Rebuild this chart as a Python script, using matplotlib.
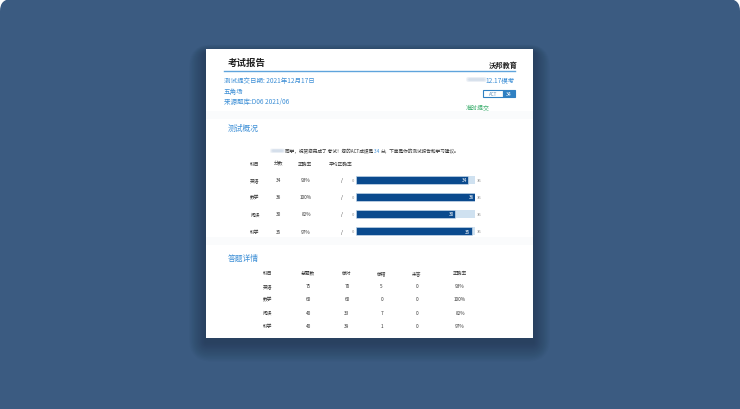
import matplotlib
matplotlib.use("Agg")
import matplotlib.pyplot as plt
from matplotlib.patches import FancyBboxPatch, Rectangle

plt.rcParams['font.family'] = ['Noto Sans CJK SC', 'DejaVu Sans']

# ---------------- data ----------------
subjects = ['英语', '数学', '阅读', '科学']
scores = [34, 36, 30, 35]
accuracy = ['93%', '100%', '82%', '97%']
max_score = 36
overview_headers = ['科目', '分数', '正确率', '平均正确率']

detail_headers = ['科目', '总题数', '做对', '做错', '未答', '正确率']
total_q = [75, 60, 40, 40]
correct_q = [70, 60, 33, 39]
wrong_q = [5, 0, 7, 1]
blank_q = [0, 0, 0, 0]

act_score = 34

# ---------------- colours ----------------
BG = '#3b5b81'
BLUE_TXT = '#3d8fd6'
DARK_BAR = '#0a4a8e'
LIGHT_BAR = '#cfe1f0'
GREEN = '#3aad6c'
TXT = '#333333'

W, H = 740, 410
fig = plt.figure(figsize=(W / 100, H / 100), dpi=100, facecolor='white')
ax = fig.add_axes([0, 0, 1, 1])
ax.set_xlim(0, W)
ax.set_ylim(H, 0)
ax.axis('off')

# background with rounded top corners
ax.add_patch(FancyBboxPatch((0, 0), W, H + 40, boxstyle="round,pad=0,rounding_size=12",
                            fc=BG, ec='none', zorder=0))

# shadow
cx0, cy0, cx1, cy1 = 206, 50, 533, 339
for i in range(14):
    g = 2 + i * 2.0
    ax.add_patch(FancyBboxPatch((cx0 - g * 0.6, cy0 + 4 - g * 0.3), (cx1 - cx0) + g * 1.2,
                                (cy1 - cy0) + g * 1.0,
                                boxstyle="round,pad=0,rounding_size=%f" % (g * 0.8),
                                fc='#1c2d45', ec='none', alpha=0.045, zorder=1))

# card
ax.add_patch(Rectangle((cx0, cy0), cx1 - cx0, cy1 - cy0, fc='white', ec='none', zorder=2))
# subtle section bands
ax.add_patch(Rectangle((cx0, 112), cx1 - cx0, 8, fc='#fafbfc', ec='none', zorder=2))
ax.add_patch(Rectangle((cx0, 238), cx1 - cx0, 8, fc='#fafbfc', ec='none', zorder=2))

Z = 5
# header
ax.text(228, 62.5, '考试报告', fontsize=6.8, fontweight='bold', color='#222222',
        ha='left', va='center', zorder=Z)
ax.text(518, 65, '沃邦教育', fontsize=5.2, fontweight='bold', color='#222222',
        ha='right', va='center', zorder=Z)
ax.plot([224, 515], [72, 72], color='#5fa4dc', lw=1.0, zorder=Z)

ax.text(224, 80.7, '测试提交日期: 2021年12月17日', fontsize=4.7, color=BLUE_TXT,
        ha='left', va='center', zorder=Z)
ax.text(224, 91.7, '五角场', fontsize=4.7, color=BLUE_TXT, ha='left', va='center', zorder=Z)
ax.text(224, 102.3, '来源题库:D06 2021/06', fontsize=4.7, color=BLUE_TXT,
        ha='left', va='center', zorder=Z)

# blurred name + exam label
for k, a in enumerate([0.25, 0.35, 0.5]):
    ax.add_patch(FancyBboxPatch((466 + k, 78 + k * 0.6), 21 - 2 * k, 5 - 1.2 * k,
                                boxstyle="round,pad=0,rounding_size=2",
                                fc='#c9d6e6', ec='none', alpha=a, zorder=Z))
ax.text(515, 80.7, '12.17模考', fontsize=4.7, color=BLUE_TXT, ha='right', va='center', zorder=Z)

# ACT badge
ax.add_patch(Rectangle((483, 90.7), 20, 7.6, fc='white', ec='#2f80c2', lw=0.8, zorder=Z))
ax.add_patch(Rectangle((503, 90.7), 12, 7.6, fc='#2f80c2', ec='#2f80c2', lw=0.8, zorder=Z))
ax.text(493, 94.6, 'ACT', fontsize=3.3, color='#5f8fba', ha='center', va='center', zorder=Z + 1)
ax.text(509, 94.6, str(act_score), fontsize=3.8, color='white', ha='center', va='center', zorder=Z + 1)
ax.text(466, 107.7, '准时提交', fontsize=4.3, color=GREEN, ha='left', va='center', zorder=Z)

# section 1
ax.text(228, 129, '测试概况', fontsize=5.6, color=BLUE_TXT, ha='left', va='center', zorder=Z)
for k, a in enumerate([0.25, 0.35, 0.5]):
    ax.add_patch(FancyBboxPatch((270 + k, 149.5 + k * 0.5), 15 - 2 * k, 4.5 - k,
                                boxstyle="round,pad=0,rounding_size=1.5",
                                fc='#c9d6e6', ec='none', alpha=a, zorder=Z))
SFS = 3.35
t1 = ax.text(285, 151.7, '同学，祝贺您完成了 考试！您的ACT成绩是', fontsize=SFS, color=TXT,
             ha='left', va='center', zorder=Z)
t2 = ax.annotate(' %d ' % act_score, xy=(1, 0), xycoords=t1, fontsize=SFS, color=BLUE_TXT,
                 ha='left', va='bottom', zorder=Z)
ax.annotate('分，下面是你的测试报告和学习建议。', xy=(1, 0), xycoords=t2, fontsize=SFS,
            color=TXT, ha='left', va='bottom', zorder=Z)

ov_x = [255, 279, 305, 341]
for x, h in zip(ov_x, overview_headers):
    ax.text(x, 164.3, h, fontsize=3.4, color=TXT, ha='center', va='center', zorder=Z)

row_y = [180.6, 197.8, 215.0, 232.2]
for y, s, sc, acc in zip(row_y, subjects, scores, accuracy):
    ax.text(255, y, s, fontsize=3.4, color=TXT, ha='center', va='center', zorder=Z)
    ax.text(279, y, str(sc), fontsize=3.4, color=TXT, ha='center', va='center', zorder=Z)
    ax.text(306, y, acc, fontsize=3.4, color=TXT, ha='center', va='center', zorder=Z)
    ax.text(341.5, y, '/', fontsize=3.4, color=TXT, ha='center', va='center', zorder=Z)

# bar chart in its own axes
bx0, bx1 = 356, 475
by0 = 172.0
bh = 17.2 * len(subjects)
bax = fig.add_axes([bx0 / W, 1 - (by0 + bh) / H, (bx1 - bx0) / W, bh / H])
bax.set_xlim(0, max_score)
bax.set_ylim(len(subjects) - 0.5, -0.5)
bax.axis('off')
ypos = list(range(len(subjects)))
bax.barh(ypos, [max_score] * len(subjects), height=0.47, color=LIGHT_BAR, zorder=1)
bax.barh(ypos, scores, height=0.47, color=DARK_BAR, edgecolor='#dde8f3', linewidth=0.4, zorder=2)
for y, sc in zip(ypos, scores):
    bax.text(sc - 0.35, y, str(sc), fontsize=3.4, color='white', ha='right', va='center', zorder=3)
    bax.text(-0.6, y, '0', fontsize=3.0, color='#888888', ha='right', va='center',
             clip_on=False, zorder=3)
    bax.text(max_score + 0.6, y, str(max_score), fontsize=3.0, color='#888888', ha='left',
             va='center', clip_on=False, zorder=3)

# section 2
ax.text(228, 259, '答题详情', fontsize=5.6, color=BLUE_TXT, ha='left', va='center', zorder=Z)
dt_x = [267.7, 308, 347, 381.7, 417, 460]
for x, h in zip(dt_x, detail_headers):
    ax.text(x, 273.3, h, fontsize=3.4, color=TXT, ha='center', va='center', zorder=Z)
det_y = [286.7, 300.0, 313.3, 326.7]
for i, y in enumerate(det_y):
    vals = [subjects[i], str(total_q[i]), str(correct_q[i]), str(wrong_q[i]),
            str(blank_q[i]), accuracy[i]]
    for x, v in zip(dt_x, vals):
        ax.text(x, y, v, fontsize=3.4, color=TXT, ha='center', va='center', zorder=Z)

fig.savefig('out.png', dpi=100, facecolor='white')
